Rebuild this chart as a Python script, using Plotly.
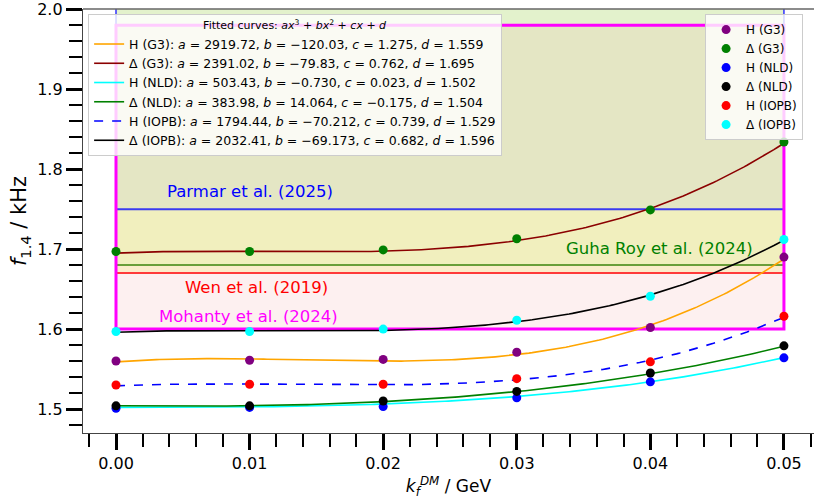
import numpy as np
import plotly.graph_objects as go

# ---- data ----
kf = [0.00, 0.01, 0.02, 0.03, 0.04, 0.05]

H_G3 = [1.560, 1.561, 1.562, 1.571, 1.602, 1.690]
D_G3 = [1.697, 1.697, 1.699, 1.713, 1.749, 1.834]
H_NLD = [1.501, 1.502, 1.503, 1.514, 1.534, 1.564]
D_NLD = [1.504, 1.504, 1.510, 1.522, 1.545, 1.579]
H_IOPB = [1.530, 1.531, 1.531, 1.538, 1.559, 1.616]
D_IOPB = [1.597, 1.597, 1.600, 1.611, 1.641, 1.712]

point_names = ["H (G3)", "Δ (G3)", "H (NLD)", "Δ (NLD)", "H (IOPB)", "Δ (IOPB)"]
point_values = [H_G3, D_G3, H_NLD, D_NLD, H_IOPB, D_IOPB]
point_colors = ["#800080", "#008000", "#0000FF", "#000000", "#FF0000", "#00FFFF"]

# fitted cubic coefficients a, b, c, d (from the legend)
fit_names = ["H (G3)", "Δ (G3)", "H (NLD)", "Δ (NLD)", "H (IOPB)", "Δ (IOPB)"]
fit_a = [2919.72, 2391.02, 503.43, 383.98, 1794.44, 2032.41]
fit_b = [-120.03, -79.83, -0.730, 14.064, -70.212, -69.173]
fit_c = [1.275, 0.762, 0.023, -0.175, 0.739, 0.682]
fit_d = [1.559, 1.695, 1.502, 1.504, 1.529, 1.596]
fit_a_txt = ["2919.72", "2391.02", "503.43", "383.98", "1794.44", "2032.41"]
fit_b_txt = ["−120.03", "−79.83", "−0.730", "14.064", "−70.212", "−69.173"]
fit_c_txt = ["1.275", "0.762", "0.023", "−0.175", "0.739", "0.682"]
fit_d_txt = ["1.559", "1.695", "1.502", "1.504", "1.529", "1.596"]
fit_colors = ["#FFA500", "#8B0000", "#00FFFF", "#008000", "#0000FF", "#000000"]
fit_dash = ["solid", "solid", "solid", "solid", "dash", "solid"]

# axis ticks
x_ticks = [0.00, 0.01, 0.02, 0.03, 0.04, 0.05]
x_ticklabels = ["0.00", "0.01", "0.02", "0.03", "0.04", "0.05"]
y_ticks = [1.5, 1.6, 1.7, 1.8, 1.9, 2.0]
y_ticklabels = ["1.5", "1.6", "1.7", "1.8", "1.9", "2.0"]

# constraint bands
parmar_low = 1.75
guha_low = 1.68
wen_low = 1.67
mohanty_low, mohanty_high = 1.60, 1.98
band_x0, band_x1 = 0.0, 0.05

FONT = "DejaVu Sans"

fig = go.Figure()

xs = np.linspace(band_x0, band_x1, 200)
for i in range(len(fit_names)):
    ys = fit_a[i] * xs**3 + fit_b[i] * xs**2 + fit_c[i] * xs + fit_d[i]
    label = (f"{fit_names[i]}: <i>a</i> = {fit_a_txt[i]}, <i>b</i> = {fit_b_txt[i]}, "
             f"<i>c</i> = {fit_c_txt[i]}, <i>d</i> = {fit_d_txt[i]}")
    fig.add_trace(go.Scatter(x=xs, y=ys, mode="lines", name=label,
                             line=dict(color=fit_colors[i], width=1.6, dash=fit_dash[i]),
                             legend="legend"))

for i in range(len(point_names)):
    fig.add_trace(go.Scatter(x=kf, y=point_values[i], mode="markers", name=point_names[i],
                             marker=dict(color=point_colors[i], size=9),
                             legend="legend2"))

shapes = []
def rect(y0, y1, color):
    shapes.append(dict(type="rect", xref="x", yref="y", x0=band_x0, x1=band_x1,
                       y0=y0, y1=y1, fillcolor=color, line=dict(width=0), layer="below"))

rect(mohanty_high, 2.05, "#e3f2cc")
rect(parmar_low, mohanty_high, "#e4e6c4")
rect(guha_low, parmar_low, "#f1efbe")
rect(wen_low, guha_low, "#fbeccb")
rect(mohanty_low, wen_low, "#fdf0f0")

for xv in (band_x0, band_x1):
    shapes.append(dict(type="line", xref="x", yref="y", x0=xv, x1=xv, y0=parmar_low, y1=2.05,
                       line=dict(color="#3030ff", width=1.5), layer="below"))
shapes.append(dict(type="line", xref="x", yref="y", x0=band_x0, x1=band_x1, y0=parmar_low, y1=parmar_low,
                   line=dict(color="#3a3af0", width=2), layer="below"))
shapes.append(dict(type="line", xref="x", yref="y", x0=band_x0, x1=band_x1, y0=guha_low, y1=guha_low,
                   line=dict(color="#6a9e3a", width=2), layer="below"))
shapes.append(dict(type="line", xref="x", yref="y", x0=band_x0, x1=band_x1, y0=wen_low, y1=wen_low,
                   line=dict(color="#ff3a3a", width=2), layer="below"))
shapes.append(dict(type="rect", xref="x", yref="y", x0=band_x0, x1=band_x1,
                   y0=mohanty_low, y1=mohanty_high, fillcolor="rgba(0,0,0,0)",
                   line=dict(color="#ff00ff", width=3), layer="below"))
# top spine
shapes.append(dict(type="line", xref="paper", yref="paper", x0=0, x1=1, y0=1, y1=1,
                   line=dict(color="#666666", width=1.5)))

annotations = [
    dict(x=0.0100, y=1.772, text="Parmar et al. (2025)", font=dict(color="#0000ff", size=16.5, family=FONT)),
    dict(x=0.0407, y=1.701, text="Guha Roy et al. (2024)", font=dict(color="#008000", size=16.5, family=FONT)),
    dict(x=0.0105, y=1.652, text="Wen et al. (2019)", font=dict(color="#ff0000", size=16.5, family=FONT)),
    dict(x=0.0099, y=1.616, text="Mohanty et al. (2024)", font=dict(color="#ff00ff", size=16.5, family=FONT)),
]
for a in annotations:
    a.update(xref="x", yref="y", showarrow=False)

fig.update_layout(
    width=814, height=499,
    margin=dict(l=83, r=0, t=7, b=66),
    paper_bgcolor="white", plot_bgcolor="white",
    font=dict(family=FONT, size=16, color="black"),
    shapes=shapes, annotations=annotations,
    showlegend=True,
    legend=dict(x=0.007, y=0.988, xanchor="left", yanchor="top",
                bgcolor="rgba(255,255,255,0.8)", bordercolor="#cccccc", borderwidth=1,
                font=dict(size=12.5, family=FONT),
                title=dict(text="Fitted curves: <i>ax</i><sup>3</sup> + <i>bx</i><sup>2</sup> + <i>cx</i> + <i>d</i>",
                           side="top center", font=dict(size=11, family=FONT))),
    legend2=dict(x=0.851, y=0.988, xanchor="left", yanchor="top",
                 bgcolor="rgba(255,255,255,0.8)", bordercolor="#cccccc", borderwidth=1,
                 font=dict(size=12, family=FONT)),
    xaxis=dict(range=[-0.00247, 0.05225], tickmode="array", tickvals=x_ticks, ticktext=x_ticklabels,
               ticks="outside", ticklen=16, tickwidth=2.5, tickcolor="black",
               ticklabeloverflow="allow",
               showline=True, linecolor="#444", linewidth=1.3, mirror=False,
               showgrid=False, zeroline=False,
               minor=dict(dtick=0.002, tick0=0, ticks="outside", ticklen=13, tickwidth=2, tickcolor="black"),
               title=dict(text="<i>k</i><sub><i>f</i></sub><sup><i>DM</i></sup> / GeV", font=dict(size=17), standoff=8)),
    yaxis=dict(range=[1.47, 2.0003], tickmode="array", tickvals=y_ticks, ticktext=y_ticklabels,
               ticks="outside", ticklen=16, tickwidth=2.5, tickcolor="black",
               ticklabeloverflow="allow",
               showline=True, linecolor="#444", linewidth=1.3, mirror=False,
               showgrid=False, zeroline=False,
               minor=dict(dtick=0.02, tick0=1.5, ticks="outside", ticklen=13, tickwidth=2, tickcolor="black"),
               title=dict(text="<i>f</i><sub>1.4</sub> / kHz", font=dict(size=21), standoff=4)),
)

fig.write_html("out.html")
